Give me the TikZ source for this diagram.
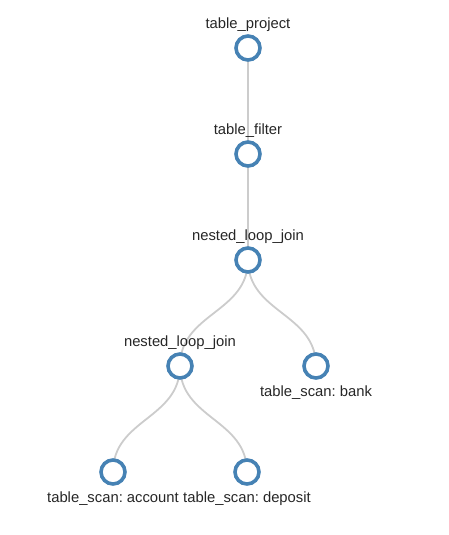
\documentclass[tikz,border=0pt]{standalone}
\usepackage{fontspec}
\setmainfont{Liberation Sans}
\frenchspacing
\usetikzlibrary{calc,backgrounds}
\definecolor{nodeblue}{RGB}{70,130,180}
\definecolor{linkgray}{RGB}{204,204,204}

\begin{document}
\begin{tikzpicture}[x=0.75pt, y=-0.75pt,
  tnode/.style={circle, draw=nodeblue, fill=white, line width=2.7pt,
    minimum size=18pt, inner sep=0pt},
  tlabel/.style={font=\fontsize{11.1}{13}\selectfont, text=black!85,
    inner sep=0pt, label distance=4pt},
  tlabelup/.style={tlabel, label distance=1.6pt},
  link/.style={draw=linkgray, line width=1.35pt}]
\useasboundingbox (0,0) rectangle (449,535);
% Plan tree
\node[tnode, label={[tlabelup]above:table\_project}] (proj) at (248,48) {};
\node[tnode, label={[tlabelup]above:table\_filter}] (filt) at (248,154) {};
\node[tnode, label={[tlabelup]above:nested\_loop\_join}] (nlja) at (248,260) {};
\node[tnode, label={[tlabelup]above:nested\_loop\_join}] (nljb) at (180,366) {};
\node[tnode, label={[tlabel]below:table\_scan: bank}] (bank) at (316,366) {};
\node[tnode, label={[tlabel]below:table\_scan: account}] (acct) at (113,472) {};
\node[tnode, label={[tlabel]below:table\_scan: deposit}] (depo) at (247,472) {};
% Links behind the circles
\begin{pgfonlayer}{background}
\foreach \a/\b in {proj/filt, filt/nlja, nlja/nljb, nlja/bank, nljb/acct, nljb/depo}
  \draw[link] let \p1=(\a.center), \p2=(\b.center) in
    (\p1) .. controls (\x1,{0.5*(\y1+\y2)}) and (\x2,{0.5*(\y1+\y2)}) .. (\p2);
\end{pgfonlayer}
\end{tikzpicture}
\end{document}
